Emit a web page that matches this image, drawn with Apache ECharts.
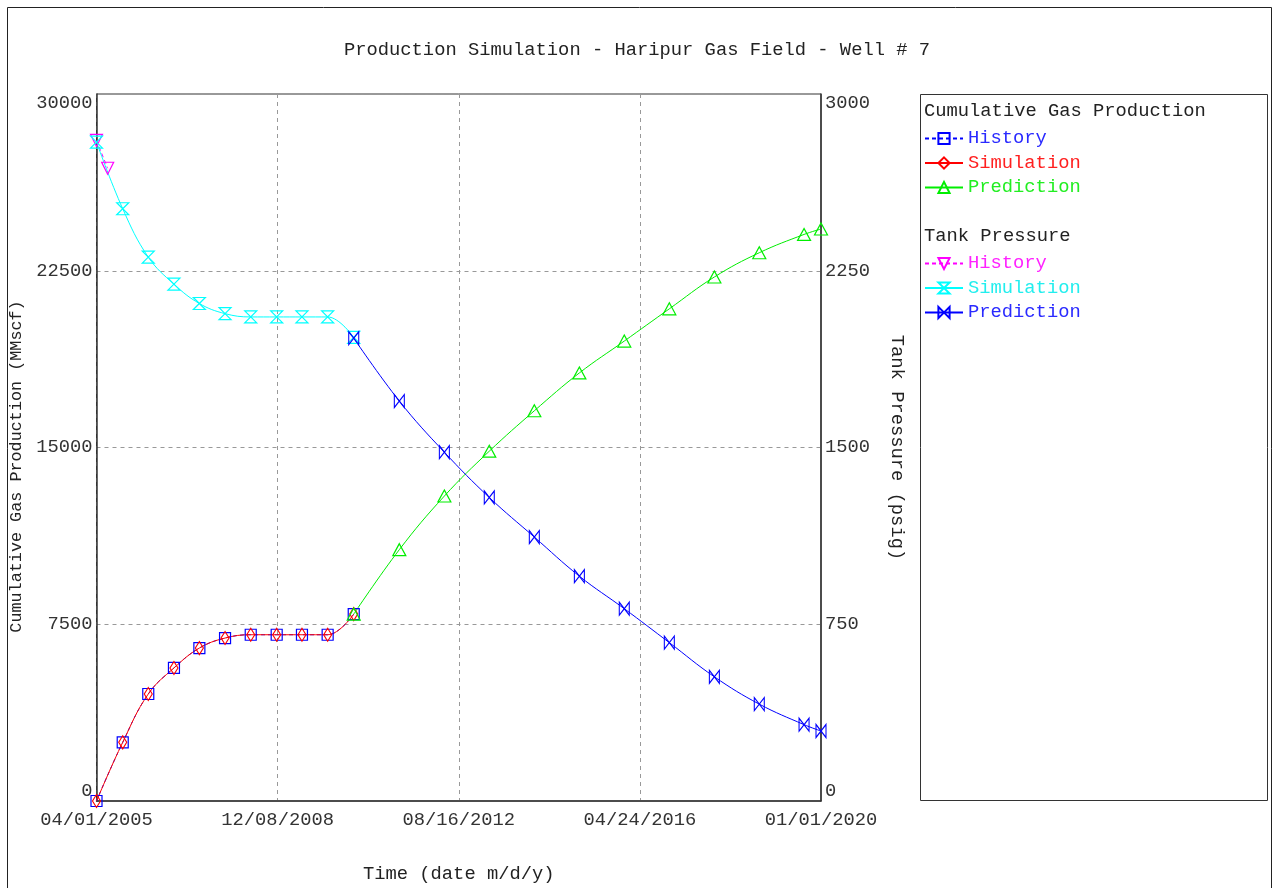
<!DOCTYPE html>
<html>
<head>
<meta charset="utf-8">
<title>Production Simulation - Haripur Gas Field - Well # 7</title>
<script src="https://cdn.jsdelivr.net/npm/echarts@6/dist/echarts.min.js"></script>
<style>
  html, body { margin: 0; padding: 0; background: #fff; }
  #main { width: 1274px; height: 888px; }
</style>
</head>
<body>
<div id="main"></div>
<script>
// dates are m/d/y on the axis, stored here as y-m-d
var historyDates = ['2005-04-01', '2005-10-13', '2006-04-21', '2006-10-29', '2007-05-06', '2007-11-13',
                    '2008-05-22', '2008-12-01', '2009-06-07', '2009-12-15', '2010-06-27'];
var gasHistory    = [0, 2490, 4540, 5645, 6490, 6915, 7055, 7055, 7055, 7055, 7930];
var gasSimulation = [0, 2490, 4540, 5645, 6490, 6915, 7055, 7055, 7055, 7055, 7930];
var pressSimulation = [2796, 2513, 2308, 2193, 2111, 2068, 2054, 2054, 2054, 2054, 1967];

var pressHistoryDates = ['2005-04-01', '2005-06-23'];
var pressHistory = [2803, 2685];

var predictionDates = ['2010-06-27', '2011-06-01', '2012-05-01', '2013-03-31', '2014-03-01', '2015-01-30',
                       '2015-12-30', '2016-11-29', '2017-10-30', '2018-09-29', '2019-08-28', '2020-01-01'];
var gasPrediction   = [7930, 10665, 12940, 14843, 16558, 18164, 19516, 20884, 22236, 23265, 24041, 24270];
var pressPrediction = [1964, 1697, 1480, 1288, 1120, 954, 816, 672, 527, 411, 324, 297];

var startDate = '2005-04-01';
var endDate = '2020-01-01';

var FONT = "'Liberation Mono', 'DejaVu Sans Mono', monospace";
var DAY = 86400000;

function toUtc(s) {
    var p = s.split('-');
    return Date.UTC(+p[0], +p[1] - 1, +p[2]);
}
var t0 = toUtc(startDate);
function dayOf(s) { return Math.round((toUtc(s) - t0) / DAY); }
function pad(n) { return (n < 10 ? '0' : '') + n; }
function fmtDay(v) {
    var d = new Date(t0 + v * DAY);
    return pad(d.getUTCMonth() + 1) + '/' + pad(d.getUTCDate()) + '/' + d.getUTCFullYear();
}
function pairs(dates, vals) {
    var out = [];
    for (var i = 0; i < dates.length; i++) out.push([dayOf(dates[i]), vals[i]]);
    return out;
}
function plain(v) { return String(v); }

var totalDays = dayOf(endDate);

var hourglass = 'path://M0,0 L10,0 L0,10 L10,10 Z';
var bowtie = 'path://M0,0 L0,10 L10,0 L10,10 Z';

function lineSeries(name, color, data, yIdx, symbol, size, dashed, rotate) {
    return {
        name: name,
        type: 'line',
        yAxisIndex: yIdx,
        data: data,
        smooth: 0.4,
        symbol: symbol,
        symbolSize: size,
        symbolRotate: rotate || 0,
        showAllSymbol: true,
        lineStyle: { color: color, width: 1, type: dashed ? [4, 3] : 'solid' },
        itemStyle: { color: 'rgba(255,255,255,0)', borderColor: color, borderWidth: 1.2 },
        emphasis: { disabled: true }
    };
}

function legendBlock(top, items) {
    return {
        orient: 'vertical', left: 924, top: top, padding: 0,
        itemWidth: 38, itemHeight: 14, itemGap: 5.5,
        formatter: function (n) { return n.split(' ').slice(1).join(' '); },
        textStyle: { fontFamily: FONT, fontSize: 18.8 },
        data: items
    };
}

var myChart = echarts.init(document.getElementById('main'));

var option = {
    backgroundColor: '#fff',
    animation: false,
    textStyle: { fontFamily: FONT },
    title: {
        text: 'Production Simulation - Haripur Gas Field - Well # 7',
        left: 'center',
        top: 36,
        textStyle: { fontFamily: FONT, fontSize: 18.8, fontWeight: 'normal', color: '#222' }
    },
    grid: { left: 96.5, right: 453, top: 94, bottom: 87, show: true, borderColor: '#333', borderWidth: 1,
            outerBoundsMode: 'none', containLabel: false },
    legend: [
        legendBlock(129, [
            { name: 'Gas History', textStyle: { color: '#2a2aff' } },
            { name: 'Gas Simulation', textStyle: { color: '#ff2020' } },
            { name: 'Gas Prediction', textStyle: { color: '#22ee22' } }
        ]),
        legendBlock(254, [
            { name: 'Pressure History', textStyle: { color: '#ff22ff' } },
            { name: 'Pressure Simulation', textStyle: { color: '#22eeee' } },
            { name: 'Pressure Prediction', textStyle: { color: '#2a2aff' } }
        ])
    ],
    graphic: [
        { type: 'rect', shape: { x: 7.5, y: 7.5, width: 1264, height: 900 }, style: { fill: 'none', stroke: '#222', lineWidth: 1 }, silent: true },
        { type: 'rect', shape: { x: 920.5, y: 94.5, width: 347, height: 706 }, style: { fill: 'none', stroke: '#333', lineWidth: 1 }, silent: true },
        { type: 'text', left: 924, top: 102, style: { text: 'Cumulative Gas Production', font: '18.8px ' + FONT, fill: '#222' }, silent: true },
        { type: 'text', left: 924, top: 227, style: { text: 'Tank Pressure', font: '18.8px ' + FONT, fill: '#222' }, silent: true }
    ],
    xAxis: {
        type: 'value',
        min: 0,
        max: totalDays,
        interval: totalDays / 4,
        name: 'Time (date m/d/y)',
        nameLocation: 'middle',
        nameGap: 64,
        nameTextStyle: { fontFamily: FONT, fontSize: 18.8, color: '#222' },
        axisLine: { show: true, lineStyle: { color: '#333', width: 1.5 } },
        axisTick: { show: false },
        axisLabel: { formatter: fmtDay, fontFamily: FONT, fontSize: 18.8, color: '#333', margin: 10 },
        splitLine: { show: true, lineStyle: { color: '#999', type: [4, 4] } }
    },
    yAxis: [
        {
            type: 'value', min: 0, max: 30000, interval: 7500,
            name: 'Cumulative Gas Production (MMscf)',
            nameLocation: 'middle', nameRotate: 90, nameGap: 70,
            nameTextStyle: { fontFamily: FONT, fontSize: 16.8, color: '#222', padding: [0, 38, 0, 0] },
            axisLine: { show: true, lineStyle: { color: '#333', width: 1.5 } },
            axisTick: { show: false },
            axisLabel: { formatter: plain, fontFamily: FONT, fontSize: 18.8, color: '#333', margin: 4,
                         verticalAlignMinLabel: 'bottom', verticalAlignMaxLabel: 'top' },
            splitLine: { show: true, lineStyle: { color: '#999', type: [4, 4] } }
        },
        {
            type: 'value', min: 0, max: 3000, interval: 750, position: 'right',
            name: 'Tank Pressure (psig)',
            nameLocation: 'middle', nameRotate: -90, nameGap: 66,
            nameTextStyle: { fontFamily: FONT, fontSize: 18.8, color: '#222' },
            axisLine: { show: true, lineStyle: { color: '#333', width: 1.5 } },
            axisTick: { show: false },
            axisLabel: { formatter: plain, fontFamily: FONT, fontSize: 18.8, color: '#333', margin: 4,
                         verticalAlignMinLabel: 'bottom', verticalAlignMaxLabel: 'top' },
            splitLine: { show: false }
        }
    ],
    series: [
        lineSeries('Gas History', '#0000ff', pairs(historyDates, gasHistory), 0, 'rect', 11, true),
        lineSeries('Gas Simulation', '#ff0000', pairs(historyDates, gasSimulation), 0, 'diamond', [8, 13], false),
        lineSeries('Gas Prediction', '#00ee00', pairs(predictionDates, gasPrediction), 0, 'triangle', [13, 12], false),
        lineSeries('Pressure History', '#ff00ff', pairs(pressHistoryDates, pressHistory), 1, 'triangle', [12, 12], true, 180),
        lineSeries('Pressure Simulation', '#00ffff', pairs(historyDates, pressSimulation), 1, hourglass, [12, 12], false),
        lineSeries('Pressure Prediction', '#0000ff', pairs(predictionDates, pressPrediction), 1, bowtie, [10, 13], false)
    ]
};

myChart.setOption(option);
</script>
</body>
</html>
